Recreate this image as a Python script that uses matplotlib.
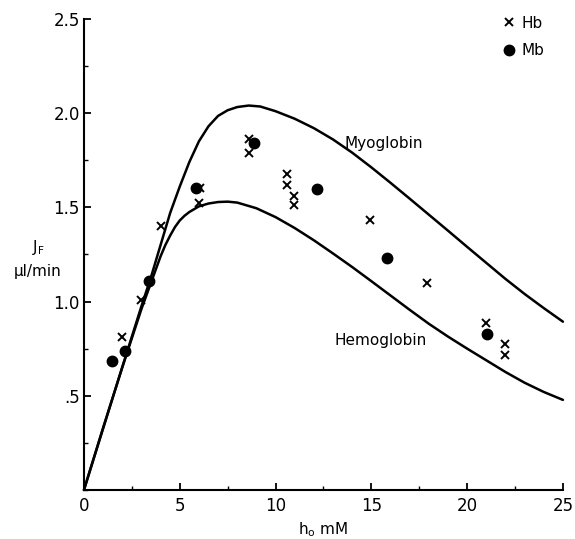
"""Facilitated flux J_F versus h_o for myoglobin and hemoglobin."""

import matplotlib

matplotlib.use("Agg")
import matplotlib.pyplot as plt
from matplotlib.ticker import MultipleLocator, FixedLocator

# theoretical curves
myo_h = [0, 1, 2, 3, 3.5, 4, 4.5, 5, 5.5, 6, 6.5, 7, 7.5, 8, 8.6, 9.2, 10,
         11, 12, 13, 14, 15, 16, 17, 18, 19, 20, 21, 22, 23, 24, 25]
myo_j = [0, 0.326, 0.652, 0.975, 1.13, 1.30, 1.47, 1.61, 1.74, 1.85, 1.93,
         1.985, 2.015, 2.032, 2.04, 2.035, 2.01, 1.97, 1.92, 1.86, 1.79,
         1.712, 1.63, 1.546, 1.461, 1.376, 1.29, 1.205, 1.12, 1.04, 0.965,
         0.893]

hemo_h = [0, 1, 2, 3, 3.5, 4, 4.25, 4.5, 4.75, 5, 5.25, 5.5, 6, 6.5, 7, 7.5,
          8, 9, 10, 11, 12, 13, 14, 15, 16, 17, 18, 19, 20, 21, 22, 23, 24,
          25]
hemo_j = [0, 0.33, 0.65, 0.96, 1.10, 1.24, 1.30, 1.35, 1.395, 1.43, 1.455,
          1.475, 1.505, 1.52, 1.528, 1.53, 1.525, 1.495, 1.448, 1.39, 1.325,
          1.255, 1.183, 1.108, 1.032, 0.956, 0.882, 0.814, 0.75, 0.688,
          0.626, 0.569, 0.52, 0.478]

# measured points
hb_h = [1.97, 3.0, 4.0, 6.05, 6.03, 8.61, 8.61, 10.61, 10.61, 10.98, 10.98,
        14.95, 17.92, 21.0, 21.96, 21.96]
hb_j = [0.81, 1.01, 1.40, 1.605, 1.525, 1.865, 1.79, 1.675, 1.62, 1.56, 1.51,
        1.43, 1.10, 0.884, 0.777, 0.716]

mb_h = [1.49, 2.14, 3.41, 5.86, 8.89, 12.18, 15.8, 21.03]
mb_j = [0.684, 0.737, 1.11, 1.60, 1.84, 1.595, 1.23, 0.83]

y_ticks = [0.5, 1.0, 1.5, 2.0, 2.5]
y_tick_labels = [".5", "1.0", "1.5", "2.0", "2.5"]
x_ticks = [0, 5, 10, 15, 20, 25]


def main() -> None:
    plt.rcParams["font.family"] = "DejaVu Sans"
    fig = plt.figure(figsize=(5.75, 5.39), dpi=100)
    ax = fig.add_axes([0.146, 0.091, 0.833, 0.874])

    ax.plot(myo_h, myo_j, color="black", lw=1.8, solid_capstyle="round",
            solid_joinstyle="round")
    ax.plot(hemo_h, hemo_j, color="black", lw=1.8, solid_capstyle="round",
            solid_joinstyle="round")
    ax.plot(hb_h, hb_j, ls="none", marker="x", ms=5.5, mew=1.4,
            color="black", label="Hb")
    ax.plot(mb_h, mb_j, ls="none", marker="o", ms=7.5, color="black",
            label="Mb")

    ax.text(13.6, 1.84, "Myoglobin", fontsize=11, va="center", ha="left")
    ax.text(13.1, 0.795, "Hemoglobin", fontsize=11, va="center", ha="left")

    ax.set_xlim(0, 25)
    ax.set_ylim(0, 2.5)
    ax.xaxis.set_major_locator(FixedLocator(x_ticks))
    ax.xaxis.set_minor_locator(MultipleLocator(2.5))
    ax.yaxis.set_major_locator(FixedLocator(y_ticks))
    ax.yaxis.set_minor_locator(MultipleLocator(0.25))
    ax.set_yticklabels(y_tick_labels)
    ax.set_xticklabels([str(t) for t in x_ticks])

    for side in ("top", "right"):
        ax.spines[side].set_visible(False)
    for side in ("left", "bottom"):
        ax.spines[side].set_linewidth(1.5)
    ax.tick_params(which="major", direction="in", length=5, width=1.3,
                   labelsize=12)
    ax.tick_params(which="minor", direction="in", length=3, width=1.0)
    ax.tick_params(axis="y", which="major", pad=3)
    ax.tick_params(axis="x", which="major", pad=5)

    ax.set_xlabel(r"h$_\mathrm{o}$ mM", fontsize=11, labelpad=4)
    fig.text(0.066, 0.52, "J$_\\mathrm{F}$\nµl/min", fontsize=11,
             ha="center", va="center", multialignment="center",
             linespacing=1.6)

    ax.legend(loc="upper left", bbox_to_anchor=(0.877, 0.971),
              bbox_transform=fig.transFigure, frameon=False, fontsize=11,
              handlelength=0.6, handletextpad=0.5, labelspacing=0.83,
              borderpad=0, borderaxespad=0)
    for line in ax.lines:
        line.set_clip_on(False)

    fig.savefig("out.png", dpi=100)


if __name__ == "__main__":
    main()
